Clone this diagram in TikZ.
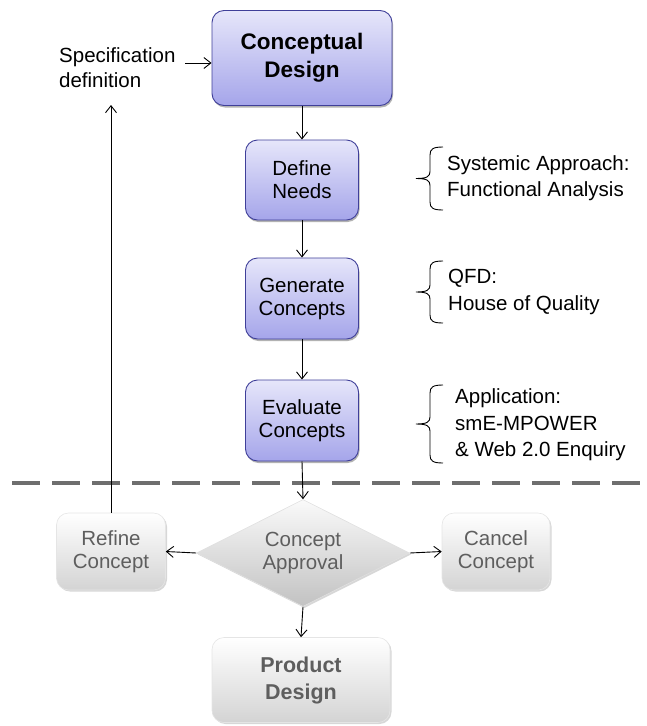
\documentclass[tikz,border=0pt]{standalone}
\usepackage{fontspec}
\setmainfont{Liberation Sans}
\usetikzlibrary{arrows.meta,shapes.geometric,shadows}

\definecolor{bluetop}{HTML}{E6E6FA}
\definecolor{bluebot}{HTML}{A5A5EA}
\definecolor{blueedge}{HTML}{3F3F99}
\definecolor{graytxt}{HTML}{5E5E5E}
\definecolor{dashcol}{HTML}{6E6E6E}

\newcommand\anbrace[3]{%
\draw[bracestyle] (#1,#2) .. controls ({#1-10},#2) and ({#1-13},{#2+2}) .. ({#1-13},{#2+8})
 -- ({#1-13},{(#2+#3)/2-7}) .. controls ({#1-13},{(#2+#3)/2-2}) and ({#1-16},{(#2+#3)/2}) .. ({#1-27},{(#2+#3)/2})
 .. controls ({#1-16},{(#2+#3)/2}) and ({#1-13},{(#2+#3)/2+2}) .. ({#1-13},{(#2+#3)/2+7})
 -- ({#1-13},{#3-8}) .. controls ({#1-13},{#3-2}) and ({#1-10},#3) .. (#1,#3);}

\begin{document}
\begin{tikzpicture}[x=1pt,y=-1pt,
  every node/.style={font=\fontsize{20.5}{23}\selectfont},
  bluebox/.style={rounded corners=12pt, draw=blueedge, line width=0.9pt,
    top color=bluetop, bottom color=bluebot, align=center, inner sep=0pt,
    drop shadow={shadow xshift=1pt, shadow yshift=-2pt, fill=black!60, opacity=0.5}},
  graybox/.style={rounded corners=12pt, draw=black!10, line width=0.6pt,
    top color=white, bottom color=black!17, align=center, inner sep=0pt, text=graytxt,
    drop shadow={shadow xshift=1.5pt, shadow yshift=-1.5pt, fill=black!35, opacity=0.45}},
  decision/.style={diamond, aspect=2, minimum width=213pt, minimum height=107pt, inner sep=0pt,
    top color=black!2, bottom color=black!24, draw=black!12, line width=0.6pt, align=center, text=graytxt,
    drop shadow={shadow xshift=1.5pt, shadow yshift=-1.5pt, fill=black!35, opacity=0.45}},
  note/.style={anchor=west, align=left, inner sep=0pt, font=\fontsize{20.5}{26.5}\selectfont},
  arr/.style={-{Straight Barb[length=7pt,width=11pt]}, line width=0.9pt, black},
  bracestyle/.style={line width=0.9pt, black},
  dashsep/.style={line width=4pt, dashcol, dash pattern=on 28pt off 12pt}
]
\useasboundingbox (0,0) rectangle (647,726);

% main flow
\node[bluebox, minimum width=180pt, minimum height=95pt,
  font=\bfseries\fontsize{22.5}{28}\selectfont] (concept) at (302,58) {Conceptual\\Design};
\node[bluebox, minimum width=113pt, minimum height=80pt] (define) at (302,180) {Define\\Needs};
\node[bluebox, minimum width=113pt, minimum height=81pt] (generate) at (302,298.5) {Generate\\Concepts};
\node[bluebox, minimum width=113pt, minimum height=81pt] (evaluate) at (302,420.5) {Evaluate\\Concepts};

\node[decision] (approval) at (303,553) {Concept\\Approval};
\node[graybox, minimum width=109pt, minimum height=77pt] (refine) at (111,551.5) {Refine\\Concept};
\node[graybox, minimum width=108pt, minimum height=77pt] (cancel) at (496,551.5) {Cancel\\Concept};
\node[graybox, minimum width=178pt, minimum height=85pt,
  font=\bfseries\fontsize{21.5}{27}\selectfont] (product) at (301,680) {Product\\Design};

% specification
\node[note, font=\fontsize{20.5}{25}\selectfont] (spec) at (59,67.5) {Specification\\definition};
\coordinate (specarr) at (185,63);
\coordinate (fbtop) at (111,105);

% annotations
\anbrace{443}{147}{210}
\node[note] (needsnote) at (447,178) {Systemic Approach:\\Functional Analysis};
\anbrace{443}{261}{323}
\node[note] (qfdnote) at (448,292) {QFD:\\House of Quality};
\anbrace{443}{385}{463}
\node[note] (appnote) at (455,425) {Application:\\smE-MPOWER\\\&~Web 2.0 Enquiry};

% separator
\coordinate (dl) at (12,483);
\coordinate (dr) at (647,483);
\draw[dashsep] (dl) -- (dr);

% connectors
\draw[arr] (concept) -- (define);
\draw[arr] (define) -- (generate);
\draw[arr] (generate) -- (evaluate);
\draw[arr] (evaluate.south) -- (approval.north);
\draw[arr] (approval.west) -- (refine.east);
\draw[arr] (approval.east) -- (cancel.west);
\draw[arr] (approval.south) -- (product.north);
\draw[arr] (refine.north) -- (fbtop);
\draw[arr] (specarr) -- (concept.west |- specarr);
\end{tikzpicture}
\end{document}
